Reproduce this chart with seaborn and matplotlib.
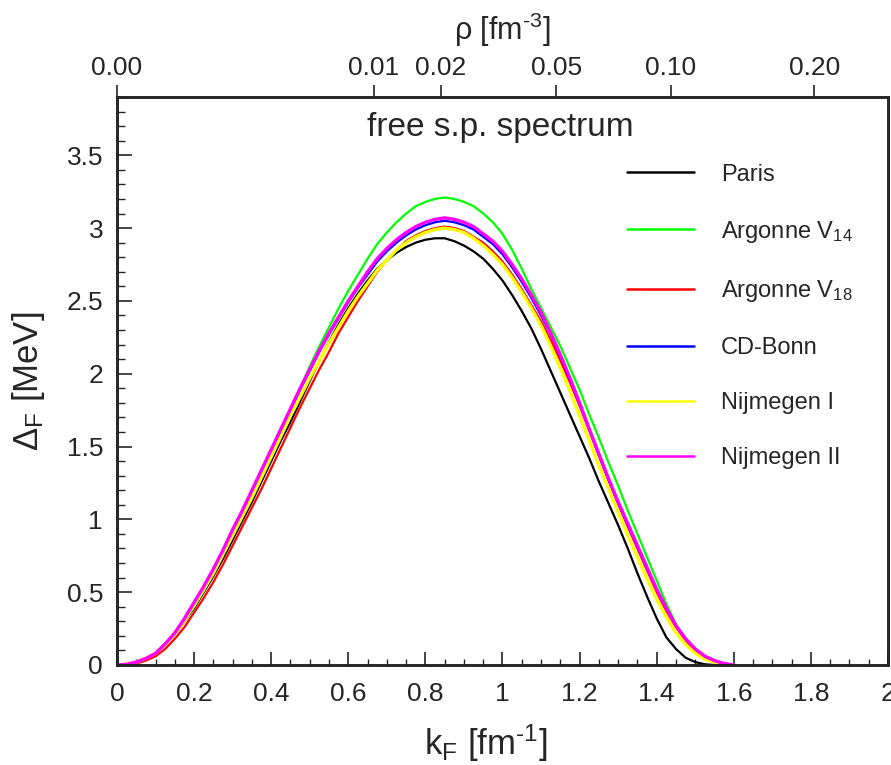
import numpy as np
import pandas as pd
import matplotlib
matplotlib.use("Agg")
import matplotlib.pyplot as plt
import seaborn as sns

# ---------------- data ----------------
k_F = [0.000, 0.025, 0.050, 0.075, 0.100, 0.125, 0.150, 0.175, 0.200, 0.225,
       0.250, 0.275, 0.300, 0.325, 0.350, 0.375, 0.400, 0.425, 0.450, 0.475,
       0.500, 0.525, 0.550, 0.575, 0.600, 0.625, 0.650, 0.675, 0.700, 0.725,
       0.750, 0.775, 0.800, 0.825, 0.850, 0.875, 0.900, 0.925, 0.950, 0.975,
       1.000, 1.025, 1.050, 1.075, 1.100, 1.125, 1.150, 1.175, 1.200, 1.225,
       1.250, 1.275, 1.300, 1.325, 1.350, 1.375, 1.400, 1.425, 1.450, 1.475,
       1.500, 1.525, 1.550, 1.575, 1.600]

paris = [0.000, 0.005, 0.020, 0.045, 0.080, 0.140, 0.210, 0.300, 0.390, 0.500,
         0.610, 0.730, 0.860, 0.990, 1.120, 1.260, 1.400, 1.540, 1.670, 1.810,
         1.950, 2.090, 2.220, 2.340, 2.450, 2.550, 2.640, 2.720, 2.780, 2.830,
         2.870, 2.900, 2.920, 2.930, 2.930, 2.910, 2.880, 2.840, 2.790, 2.720,
         2.640, 2.540, 2.430, 2.310, 2.170, 2.020, 1.870, 1.720, 1.570, 1.420,
         1.260, 1.110, 0.960, 0.800, 0.630, 0.470, 0.320, 0.190, 0.110, 0.050,
         0.020, 0.005, 0.000, 0.000, 0.000]
argonne_v14 = [0.000, 0.005, 0.020, 0.045, 0.080, 0.140, 0.210, 0.300, 0.400, 0.510,
               0.630, 0.760, 0.890, 1.020, 1.160, 1.300, 1.450, 1.600, 1.750, 1.900,
               2.050, 2.190, 2.320, 2.450, 2.570, 2.680, 2.790, 2.890, 2.970, 3.040,
               3.100, 3.150, 3.180, 3.200, 3.210, 3.200, 3.180, 3.150, 3.100, 3.040,
               2.960, 2.850, 2.720, 2.580, 2.450, 2.320, 2.190, 2.040, 1.890, 1.720,
               1.560, 1.390, 1.230, 1.060, 0.900, 0.740, 0.580, 0.420, 0.280, 0.170,
               0.090, 0.045, 0.020, 0.005, 0.000]
argonne_v18 = [0.000, 0.003, 0.010, 0.030, 0.060, 0.110, 0.180, 0.260, 0.360, 0.460,
               0.570, 0.690, 0.820, 0.950, 1.080, 1.210, 1.350, 1.490, 1.630, 1.770,
               1.900, 2.030, 2.150, 2.280, 2.390, 2.500, 2.600, 2.700, 2.780, 2.850,
               2.910, 2.950, 2.980, 3.000, 3.010, 3.000, 2.980, 2.940, 2.900, 2.840,
               2.770, 2.680, 2.580, 2.470, 2.360, 2.230, 2.090, 1.940, 1.780, 1.610,
               1.440, 1.270, 1.110, 0.950, 0.800, 0.650, 0.500, 0.370, 0.260, 0.170,
               0.100, 0.055, 0.025, 0.008, 0.000]
cd_bonn = [0.000, 0.005, 0.020, 0.045, 0.080, 0.145, 0.220, 0.310, 0.420, 0.530,
           0.650, 0.780, 0.920, 1.050, 1.190, 1.330, 1.470, 1.610, 1.750, 1.890,
           2.020, 2.150, 2.270, 2.380, 2.490, 2.590, 2.680, 2.770, 2.840, 2.900,
           2.950, 2.990, 3.020, 3.040, 3.050, 3.040, 3.020, 2.990, 2.940, 2.890,
           2.820, 2.730, 2.630, 2.520, 2.400, 2.270, 2.120, 1.960, 1.790, 1.620,
           1.440, 1.270, 1.110, 0.960, 0.810, 0.660, 0.520, 0.390, 0.270, 0.180,
           0.110, 0.060, 0.030, 0.010, 0.000]
nijmegen_1 = [0.000, 0.005, 0.020, 0.045, 0.080, 0.140, 0.210, 0.310, 0.410, 0.520,
              0.630, 0.760, 0.890, 1.020, 1.150, 1.290, 1.430, 1.570, 1.710, 1.840,
              1.970, 2.090, 2.210, 2.320, 2.430, 2.530, 2.620, 2.710, 2.780, 2.850,
              2.900, 2.940, 2.970, 2.990, 3.000, 2.990, 2.970, 2.930, 2.880, 2.820,
              2.750, 2.660, 2.560, 2.450, 2.330, 2.190, 2.040, 1.880, 1.710, 1.540,
              1.370, 1.210, 1.050, 0.890, 0.740, 0.590, 0.450, 0.330, 0.220, 0.140,
              0.080, 0.040, 0.020, 0.005, 0.000]
nijmegen_2 = [0.000, 0.005, 0.020, 0.045, 0.080, 0.145, 0.220, 0.320, 0.430, 0.540,
              0.660, 0.790, 0.930, 1.060, 1.200, 1.340, 1.480, 1.620, 1.760, 1.900,
              2.030, 2.160, 2.280, 2.390, 2.500, 2.600, 2.700, 2.790, 2.860, 2.920,
              2.970, 3.010, 3.040, 3.060, 3.070, 3.060, 3.040, 3.010, 2.960, 2.910,
              2.840, 2.750, 2.650, 2.540, 2.420, 2.280, 2.130, 1.970, 1.800, 1.620,
              1.450, 1.280, 1.120, 0.970, 0.820, 0.670, 0.520, 0.390, 0.270, 0.180,
              0.110, 0.060, 0.030, 0.010, 0.000]

models = ["Paris", "Argonne V$_{14}$", "Argonne V$_{18}$", "CD-Bonn",
          "Nijmegen I", "Nijmegen II"]
colors = ["#000000", "#00ff00", "#ff0000", "#0000ff", "#ffff00", "#ff00ff"]
widths = [1.6, 1.6, 1.6, 1.6, 2.4, 2.4]

rho_ticks = [0.00, 0.01, 0.02, 0.05, 0.10, 0.20]
rho_labels = ["0.00", "0.01", "0.02", "0.05", "0.10", "0.20"]

x_ticks = [0, 0.2, 0.4, 0.6, 0.8, 1.0, 1.2, 1.4, 1.6, 1.8, 2.0]
y_ticks = [0, 0.5, 1.0, 1.5, 2.0, 2.5, 3.0, 3.5]

series = [paris, argonne_v14, argonne_v18, cd_bonn, nijmegen_1, nijmegen_2]
df = pd.concat([pd.DataFrame({"k": k_F, "gap": s, "model": m})
                for s, m in zip(series, models)], ignore_index=True)

# ---------------- style ----------------
sns.set_theme(style="white")
plt.rcParams["font.family"] = ["Liberation Sans", "DejaVu Sans"]
plt.rcParams["mathtext.fontset"] = "custom"
plt.rcParams["mathtext.rm"] = "Liberation Sans"
plt.rcParams["mathtext.it"] = "Liberation Sans"
plt.rcParams["mathtext.bf"] = "Liberation Sans"

fig = plt.figure(figsize=(8.91, 7.65), dpi=100)
ax = fig.add_axes([117/891, 100/765, 771/891, 568/765])

for m, c, w in zip(models, colors, widths):
    sns.lineplot(data=df[df.model == m], x="k", y="gap", color=c, lw=w,
                 ax=ax, sort=False, estimator=None, legend=False)

ax.set_xlim(0, 2)
ax.set_ylim(0, 3.9)
ax.set_xticks(x_ticks)
ax.set_xticklabels([f"{t:g}" for t in x_ticks])
ax.set_yticks(y_ticks)
ax.set_yticklabels([f"{t:g}" for t in y_ticks])
ax.xaxis.set_minor_locator(matplotlib.ticker.MultipleLocator(0.05))
ax.yaxis.set_minor_locator(matplotlib.ticker.MultipleLocator(0.1))
ax.tick_params(axis="x", which="major", direction="in", length=9.5, width=1.2,
               labelsize=19, pad=12, bottom=True, top=False)
ax.tick_params(axis="x", which="minor", direction="in", length=4.5, width=1.0,
               bottom=True, top=False)
ax.tick_params(axis="y", which="major", direction="in", length=11, width=1.2,
               labelsize=19, pad=10, left=True, right=False)
ax.tick_params(axis="y", which="minor", direction="in", length=6, width=1.0,
               left=True, right=False)
for sp in ax.spines.values():
    sp.set_linewidth(1.8)
    sp.set_color("black")

ax.set_xlabel("k$_F$ [fm$^{\\text{-}1}$]", fontsize=25)
ax.xaxis.set_label_coords(0.478, -0.102)
ax.set_ylabel("$\\Delta_F$ [MeV]", fontsize=25)
ax.yaxis.set_label_coords(-0.091, 0.5)
ax.text(0.497, 0.947, "free s.p. spectrum", transform=ax.transAxes,
        ha="center", va="center", fontsize=24)

# top density axis
ax2 = ax.twiny()
ax2.set_xlim(ax.get_xlim())
k_of_rho = [(3 * np.pi**2 * r) ** (1/3) for r in rho_ticks]
ax2.set_xticks(k_of_rho)
ax2.set_xticklabels(rho_labels)
ax2.tick_params(axis="x", direction="out", length=9, width=1.2, labelsize=19,
                pad=3)
ax2.set_xlabel("ρ [fm$^{\\text{-}3}$]", fontsize=22, labelpad=12)
for sp in ax2.spines.values():
    sp.set_linewidth(1.8)

handles = [matplotlib.lines.Line2D([], [], color=c, lw=1.8) for c in colors]
leg = ax.legend(handles, models, loc="upper left",
                bbox_to_anchor=(0.634, 0.92), frameon=False, fontsize=17,
                handlelength=2.84, handletextpad=1.14, labelspacing=1.4)

fig.savefig("out.png", dpi=100)
